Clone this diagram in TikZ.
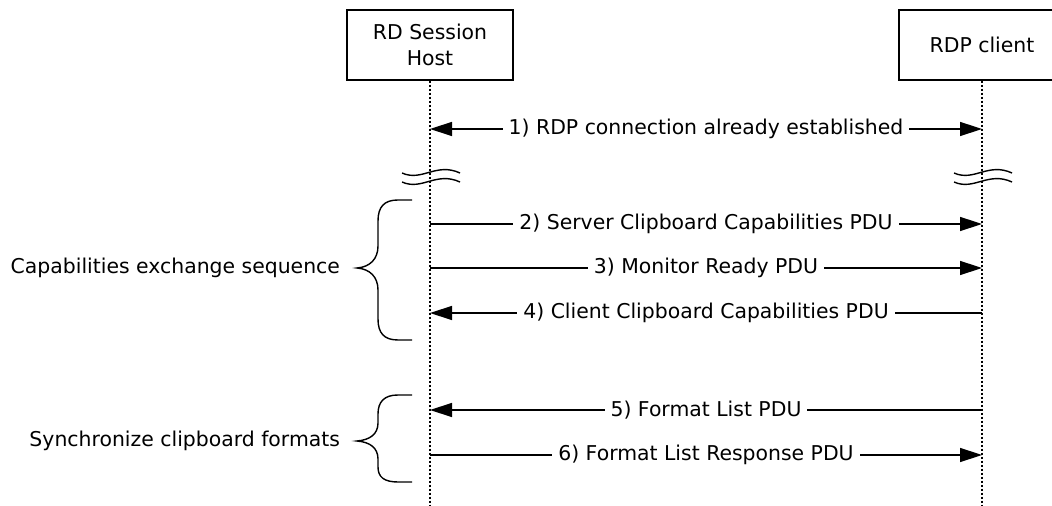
\documentclass[tikz,border=0pt]{standalone}
\usepackage{fontspec}
\setmainfont{DejaVu Sans}
\usetikzlibrary{arrows.meta, positioning}

\begin{document}
\begin{tikzpicture}[
  x=0.5pt, y=-0.5pt,
  font=\fontsize{10.2}{13}\selectfont,
  actor/.style={draw, line width=0.7pt, minimum width=83pt, minimum height=35pt, align=center},
  lifeline/.style={line width=0.7pt, dash pattern=on 1pt off 1pt},
  msg/.style={line width=0.7pt, -{Triangle[length=11pt, width=7pt]}},
  msgboth/.style={line width=0.7pt, {Triangle[length=11pt, width=7pt]}-{Triangle[length=11pt, width=7pt]}},
  msglabel/.style={fill=white, inner xsep=3pt, inner ysep=1pt},
  brace/.style={line width=0.7pt},
  breakmark/.style={line width=0.7pt},
  phase/.style={anchor=east}
  ]

  \useasboundingbox (0,0) rectangle (1052,506);

  % Participants
  \node[actor] (host) at (430,45) {RD Session\\Host};
  \node[actor] (client) at (982,45) {RDP client};

  % Lifelines
  \coordinate (hostend) at (430,506);
  \coordinate (clientend) at (982,506);
  \draw[lifeline] (host.south) -- (hostend);
  \draw[lifeline] (client.south) -- (clientend);

  % Message levels
  \foreach \n/\y in {1/129, 2/224, 3/268, 4/313, 5/410, 6/455} {
    \coordinate (h\n) at (430,\y);
    \coordinate (c\n) at (982,\y);
  }

  % Messages
  \draw[msgboth] (h1) -- node[msglabel] {1) RDP connection already established} (c1);
  \draw[msg] (h2) -- node[msglabel] {2) Server Clipboard Capabilities PDU} (c2);
  \draw[msg] (h3) -- node[msglabel] {3) Monitor Ready PDU} (c3);
  \draw[msg] (c4) -- node[msglabel] {4) Client Clipboard Capabilities PDU} (h4);
  \draw[msg] (c5) -- node[msglabel] {5) Format List PDU} (h5);
  \draw[msg] (h6) -- node[msglabel] {6) Format List Response PDU} (c6);

  % Time breaks
  \foreach \x in {430, 982} {
    \foreach \y in {173, 182} {
      \draw[breakmark] (\x-28,\y) .. controls (\x-8,\y+9) and (\x+6,\y-11) .. (\x+30,\y);
    }
  }

  % Phases
  \draw[brace] (412,200) -- (398,200) .. controls (384,200) and (378,207) .. (378,221)
    -- (378,246) .. controls (378,259) and (370,267) .. (357,268)
    .. controls (370,269) and (378,277) .. (378,290)
    -- (378,319) .. controls (378,333) and (384,340) .. (398,340) -- (412,340);
  \node[phase] (capseq) at (347,268) {Capabilities exchange sequence};

  \draw[brace] (412,395) -- (398,395) .. controls (384,395) and (378,402) .. (378,414)
    -- (378,423) .. controls (378,434) and (370,440) .. (357,441)
    .. controls (370,442) and (378,448) .. (378,459)
    -- (378,467) .. controls (378,477) and (384,482) .. (398,482) -- (412,482);
  \node[phase] (syncfmt) at (347,441) {Synchronize clipboard formats};

\end{tikzpicture}
\end{document}
